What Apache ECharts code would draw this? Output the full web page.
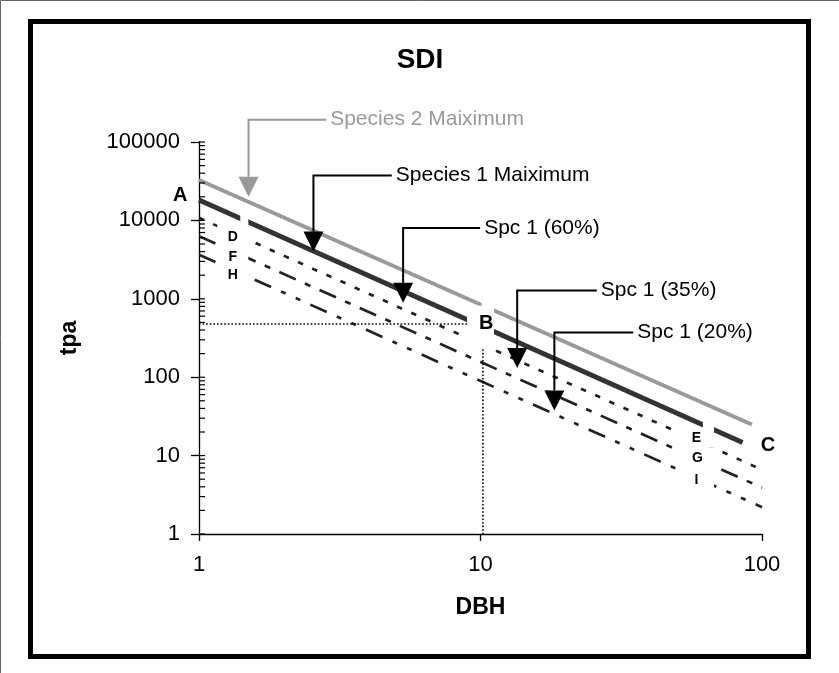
<!DOCTYPE html>
<html>
<head>
<meta charset="utf-8">
<script src="https://cdn.jsdelivr.net/npm/echarts@6.0.0/dist/echarts.min.js"></script>
<style>
  html, body { margin: 0; padding: 0; background: #fff; }
  #main { width: 839px; height: 673px; }
</style>
</head>
<body>
<div id="main"></div>
<script>
var FONT = '"Liberation Sans", Arial, sans-serif';

// axis ticks
var yDecades = [1, 10, 100, 1000, 10000];
var minorSteps = [1, 2, 3, 4, 5, 6, 7, 8, 9];
var yMax = 100000;

// lines, [DBH, tpa] end points
var species2Max = [[1, 32800], [92, 24.9]];
var species1Max = [[1, 18200], [85.3, 14.7]];
var spc60 = [[1, 10800], [100, 6.6]];
var spc35 = [[1, 6300], [100, 3.9]];
var spc20 = [[1, 3650], [100, 2.2]];
var refH = [[1, 477], [10.2, 477]];
var refV = [[10.2, 477], [10.2, 1]];

// letter labels [text, DBH, tpa, size]
var letters = [
  ['A', 0.858, 20980, 20], ['B', 10.47, 481, 20], ['C', 105, 13.6, 20],
  ['D', 1.318, 6110, 14], ['F', 1.318, 3445, 14], ['H', 1.318, 2000, 14],
  ['E', 58.5, 16.9, 14], ['G', 59, 9.27, 14], ['I', 58.5, 4.93, 14]
];
// white label boxes [DBH, tpa, w, h] (centre)
var boxes = [
  [1.318, 6470, 31, 26], [1.318, 3445, 31, 18], [1.318, 1972, 31, 20],
  [1.448, 11150, 8, 14],
  [10.0, 441, 27, 42], [10.6, 829, 12, 12],
  [58.3, 16.9, 36, 20], [58.3, 9.27, 36, 21], [58.3, 5.0, 36, 21],
  [64.5, 24.8, 11, 12]
];
// callouts: corner DBH, corner tpa, arrow tip tpa, end of leader DBH
var callouts = [
  { text: 'Species 2 Maiximum', color: '#999', x: 1.5, top: 192500, tip: 20050, end: 2.83 },
  { text: 'Species 1 Maiximum', color: '#000', x: 2.55, top: 37500, tip: 4025, end: 4.84 },
  { text: 'Spc 1 (60%)', color: '#000', x: 5.31, top: 8000, tip: 892, end: 9.97 },
  { text: 'Spc 1 (35%)', color: '#000', x: 13.5, top: 1280, tip: 131, end: 25.9 },
  { text: 'Spc 1 (20%)', color: '#000', x: 18.3, top: 373, tip: 37.7, end: 34.9 }
];

var yInTicks = [];
yDecades.forEach(function (d) {
  minorSteps.forEach(function (m) { yInTicks.push([1, d * m]); });
});
yInTicks.push([1, yMax]);

var chart = echarts.init(document.getElementById('main'));

function line(data, color, width, type, z) {
  return {
    type: 'line', data: data, showSymbol: false, silent: true, z: z,
    lineStyle: { color: color, width: width, type: type, cap: 'butt' }
  };
}
function plain(v) { return String(Math.round(v)); }

chart.setOption({
  animation: false,
  backgroundColor: '#fff',
  textStyle: { fontFamily: FONT },
  grid: { left: 199, right: 77, top: 142, bottom: 139 },
  xAxis: {
    type: 'log', logBase: 10, min: 1, max: 100,
    name: 'DBH', nameLocation: 'middle', nameGap: 62,
    nameTextStyle: { fontSize: 23, fontWeight: 'bold', color: '#000', fontFamily: FONT },
    axisLine: { lineStyle: { color: '#000', width: 1.3 } },
    axisTick: { length: 7, lineStyle: { color: '#000', width: 1.3 } },
    axisLabel: { fontSize: 22, color: '#000', margin: 20, fontFamily: FONT, formatter: plain },
    splitLine: { show: false }
  },
  yAxis: {
    type: 'log', logBase: 10, min: 1, max: yMax,
    name: 'tpa', nameLocation: 'middle', nameGap: 118,
    nameTextStyle: { fontSize: 23, fontWeight: 'bold', color: '#000', fontFamily: FONT },
    axisLine: { lineStyle: { color: '#000', width: 1.3 } },
    axisTick: { length: 8, lineStyle: { color: '#000', width: 1.3 } },
    axisLabel: { fontSize: 22, color: '#000', margin: 19, fontFamily: FONT, formatter: plain },
    splitLine: { show: false }
  },
  series: [
    line(species2Max, '#999', 4, 'solid', 2),
    line(species1Max, '#333', 5, 'solid', 3),
    line(spc60, '#222', 2.7, [5.5, 10], 3),
    line(spc35, '#222', 2.7, [18, 10, 6, 10], 3),
    line(spc20, '#222', 2.7, [18, 11, 5, 11, 5, 11], 3),
    line(refH, '#000', 1.6, [1.6, 2], 3),
    line(refV, '#000', 1.6, [1.6, 2], 3),
    {
      type: 'custom', silent: true, z: 4,
      data: yInTicks,
      renderItem: function (params, api) {
        var p = api.coord([api.value(0), api.value(1)]);
        return {
          type: 'line',
          shape: { x1: p[0], y1: p[1], x2: p[0] + 6, y2: p[1] },
          style: { stroke: '#000', lineWidth: 1.2 }
        };
      }
    }
  ]
});

function px(x, y) { return chart.convertToPixel({ gridIndex: 0 }, [x, y]); }

var g = [];
boxes.forEach(function (b) {
  var p = px(b[0], b[1]);
  g.push({ type: 'rect', z: 10, silent: true,
    shape: { x: p[0] - b[2] / 2, y: p[1] - b[3] / 2, width: b[2], height: b[3] },
    style: { fill: '#fff' } });
});
letters.forEach(function (l) {
  var p = px(l[1], l[2]);
  g.push({ type: 'text', z: 11, silent: true, x: p[0], y: p[1],
    style: { text: l[0], fill: '#000', font: 'bold ' + l[3] + 'px ' + FONT,
      align: 'center', verticalAlign: 'middle' } });
});
callouts.forEach(function (c) {
  var corner = px(c.x, c.top), tip = px(c.x, c.tip), end = px(c.end, c.top);
  g.push({ type: 'polyline', z: 12, silent: true,
    shape: { points: [[end[0], corner[1]], [corner[0], corner[1]], [corner[0], tip[1] - 20]] },
    style: { stroke: c.color, lineWidth: 2, fill: null } });
  g.push({ type: 'polygon', z: 12, silent: true,
    shape: { points: [[tip[0] - 10, tip[1] - 20], [tip[0] + 10, tip[1] - 20], [tip[0], tip[1]]] },
    style: { fill: c.color } });
  g.push({ type: 'text', z: 12, silent: true, x: end[0] + 4, y: corner[1],
    style: { text: c.text, fill: c.color, font: '21px ' + FONT, align: 'left', verticalAlign: 'middle' } });
});
// title and frame
g.push({ type: 'text', z: 12, silent: true, x: 420, y: 60,
  style: { text: 'SDI', fill: '#000', font: 'bold 28px ' + FONT, align: 'center', verticalAlign: 'middle' } });
g.push({ type: 'rect', z: 20, silent: true,
  shape: { x: 30.5, y: 21.5, width: 778, height: 635 },
  style: { fill: null, stroke: '#000', lineWidth: 5 } });
g.push({ type: 'polyline', z: 20, silent: true,
  shape: { points: [[0.5, 673], [0.5, 0.5], [839, 0.5]] },
  style: { stroke: '#666', lineWidth: 1, fill: null } });

chart.setOption({ graphic: g });
</script>
</body>
</html>
